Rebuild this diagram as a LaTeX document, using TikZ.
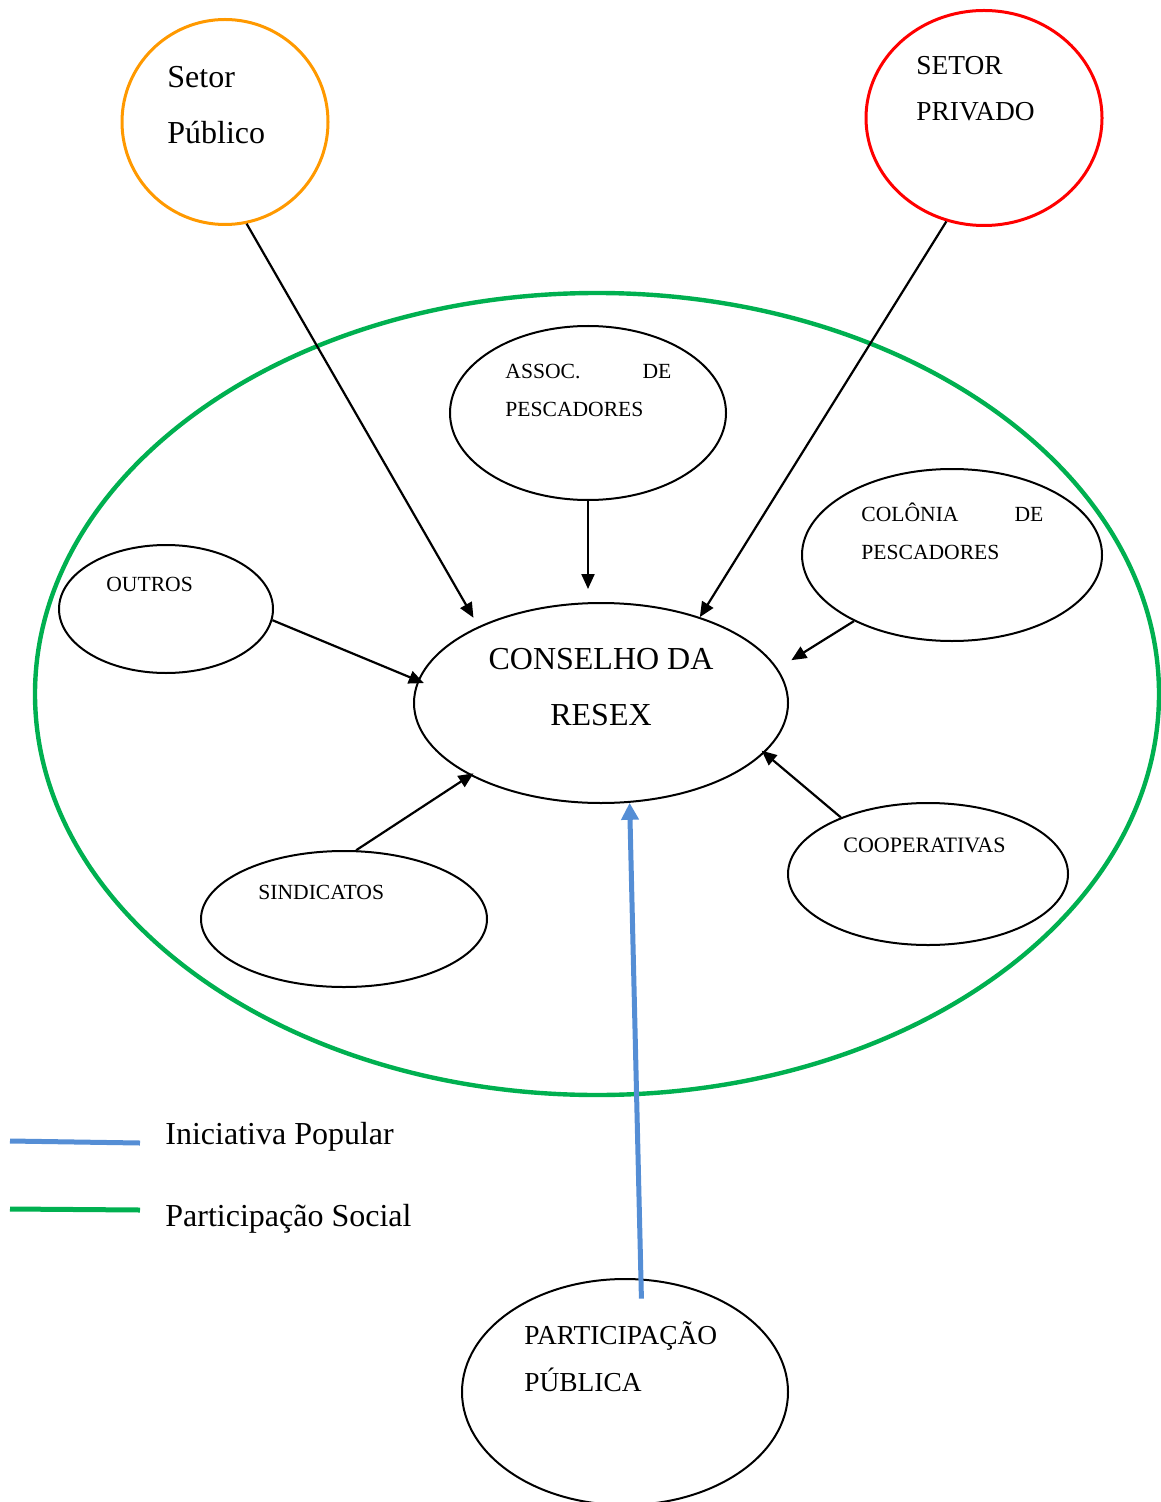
\documentclass[tikz,border=0pt]{standalone}
\usepackage{fontspec}
\setmainfont{Liberation Serif}
\usetikzlibrary{shapes.geometric,arrows.meta}
\definecolor{verde}{HTML}{00B050}
\definecolor{laranja}{HTML}{FF9900}
\definecolor{azul}{HTML}{558ED5}
\begin{document}
\begin{tikzpicture}[x=0.5pt,y=-0.5pt,line join=round,
	elipse/.style={draw,ellipse,inner sep=0pt,line width=1pt},
	seta/.style={-{Triangle[length=7.5pt,width=6.5pt]},line width=1.1pt},
	rotulo/.style={anchor=base west,inner sep=0pt}]
	\useasboundingbox (0,0) rectangle (1160,1502);
	% participacao social
	\node[elipse,draw=verde,line width=2.2pt,minimum width=562pt,minimum height=401pt] (social) at (597,694) {};
	% setores
	\node[elipse,draw=laranja,line width=1.5pt,minimum width=103pt,minimum height=102.5pt] (publico) at (225,122) {};
	\node[elipse,draw=red,line width=1.5pt,minimum width=118pt,minimum height=107.5pt] (privado) at (984,118) {};
	% entidades
	\node[elipse,minimum width=187pt,minimum height=100pt] (conselho) at (601,703) {};
	\node[elipse,minimum width=138pt,minimum height=87pt] (assoc) at (588,413) {};
	\node[elipse,minimum width=150pt,minimum height=86pt] (colonia) at (952,555) {};
	\node[elipse,minimum width=107pt,minimum height=64pt] (outros) at (166,609) {};
	\node[elipse,minimum width=143pt,minimum height=68pt] (sindicatos) at (344,919) {};
	\node[elipse,minimum width=140pt,minimum height=71pt] (coop) at (928,874) {};
	\node[elipse,minimum width=163pt,minimum height=113pt] (particip) at (625,1392) {};
	% textos
	\node[rotulo] (t-publico) at (167,88) {\parbox[t]{70pt}{\raggedright\fontsize{16}{28}\selectfont Setor\\Público}};
	\node[rotulo] (t-privado) at (916,75) {\parbox[t]{80pt}{\raggedright\fontsize{13.7}{23}\selectfont SETOR\\PRIVADO}};
	\node[rotulo,anchor=base] (t-conselho) at (601,669) {\parbox[t]{140pt}{\centering\fontsize{16}{28}\selectfont CONSELHO DA\\RESEX}};
	\node[rotulo] (t-assoc) at (505,379) {\parbox[t]{83pt}{\fontsize{10.8}{19}\selectfont ASSOC.\hfill DE\\PESCADORES}};
	\node[rotulo] (t-colonia) at (861,521) {\parbox[t]{91pt}{\fontsize{10.8}{19}\selectfont COLÔNIA\hfill DE\\PESCADORES}};
	\node[rotulo,font=\fontsize{10.8}{13}\selectfont] (t-outros) at (106,591) {OUTROS};
	\node[rotulo,font=\fontsize{10.8}{13}\selectfont] (t-sindicatos) at (258,899) {SINDICATOS};
	\node[rotulo,font=\fontsize{11}{13}\selectfont] (t-coop) at (843,852) {COOPERATIVAS};
	\node[rotulo] (t-particip) at (524,1344) {\parbox[t]{110pt}{\raggedright\fontsize{13.7}{23.5}\selectfont PARTICIPAÇÃO\\PÚBLICA}};
	% setas
	\draw[seta,shorten >=5pt] (publico.-78) -- (conselho.148);
	\draw[seta] (privado.-110) -- (conselho.41);
	\draw[seta,shorten >=6.5pt] (assoc.south) -- (assoc.south |- conselho.north);
	\draw[seta,shorten >=8pt] (colonia.214) -- (conselho.11);
	\draw[seta,shorten >=-3.3pt] (outros.-6) -- (conselho.173);
	\draw[seta,shorten >=-2pt] (sindicatos.80) -- (conselho.209);
	\draw[seta,shorten >=-1.8pt] (coop.147) -- (conselho.-17);
	\draw[azul,line width=2.5pt,-{Triangle[length=8.5pt,width=8.5pt]},shorten <=-10pt] (particip.82) -- (conselho.-74);
	% legenda
	\draw[azul,line width=2.5pt] (10,1141) -- (140,1143);
	\draw[verde,line width=2.5pt] (10,1209) -- (140,1210);
	\node[rotulo,font=\fontsize{16}{19}\selectfont] (l-iniciativa) at (165,1144) {Iniciativa Popular};
	\node[rotulo,font=\fontsize{16}{19}\selectfont] (l-social) at (165,1226) {Participação Social};
\end{tikzpicture}
\end{document}
